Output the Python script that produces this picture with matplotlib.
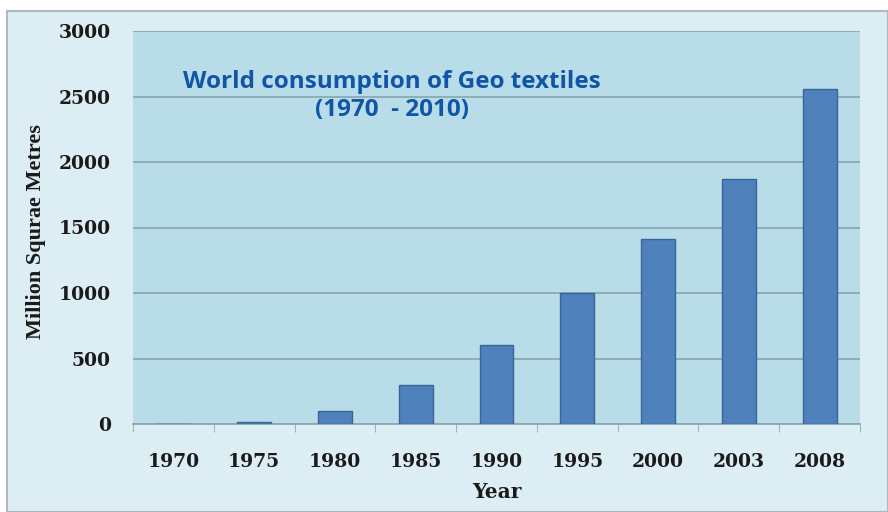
"""World consumption of geotextiles, 1970-2010, as a bar chart."""

import matplotlib
matplotlib.use("Agg")
import matplotlib.pyplot as plt
from matplotlib.patches import Rectangle

years = ["1970", "1975", "1980", "1985", "1990", "1995", "2000", "2003", "2008"]
consumption = [0, 15, 100, 300, 600, 1000, 1410, 1870, 2560]
y_ticks = [0, 500, 1000, 1500, 2000, 2500, 3000]

OUTER_BG = "#dcedf3"
PLOT_BG = "#b8dde9"
BAR_COLOR = "#4f81bd"
BAR_EDGE = "#3a6496"
GRID_COLOR = "#8aa8b0"
TITLE_COLOR = "#1155a8"
TEXT_COLOR = "#1a1a1a"


def main() -> None:
    fig = plt.figure(figsize=(8.88, 5.12), dpi=100)
    fig.patch.set_facecolor("white")

    # outer chart frame, drawn behind the axes
    frame = Rectangle((7 / 888, 0), 1 - 7 / 888, 1 - 11 / 512,
                      transform=fig.transFigure, facecolor=OUTER_BG,
                      edgecolor="#b0b8bc", linewidth=1.5, zorder=-10)
    fig.patches.append(frame)

    ax = fig.add_axes([133 / 888, 88 / 512, 727 / 888, 393 / 512])
    ax.set_facecolor(PLOT_BG)

    x = list(range(len(years)))
    ax.bar(x, consumption, width=0.42, color=BAR_COLOR, edgecolor=BAR_EDGE,
           linewidth=1.0, zorder=3)

    ax.set_xlim(-0.5, len(years) - 0.5)
    ax.set_ylim(0, 3000)
    ax.set_yticks(y_ticks)
    ax.set_xticks(x)
    ax.set_xticks([i + 0.5 for i in range(-1, len(years))], minor=True)
    ax.set_xticklabels(years)
    ax.yaxis.grid(True, color=GRID_COLOR, linewidth=1.3, zorder=1)

    for side in ["top", "right", "left"]:
        ax.spines[side].set_visible(False)
    ax.spines["bottom"].set_color(GRID_COLOR)
    ax.spines["bottom"].set_linewidth(1.3)

    ax.tick_params(axis="x", which="major", length=0, pad=21)
    ax.tick_params(axis="x", which="minor", length=6, color=GRID_COLOR)
    ax.tick_params(axis="y", length=0, pad=16)
    for lab in ax.get_xticklabels() + ax.get_yticklabels():
        lab.set_fontfamily("DejaVu Serif")
        lab.set_fontweight("bold")
        lab.set_fontsize(13.5)
        lab.set_color(TEXT_COLOR)

    ax.set_xlabel("Year", fontsize=14.5, labelpad=8, color=TEXT_COLOR,
                  family="DejaVu Serif", weight="bold")
    ax.set_ylabel("Million Squrae Metres", fontsize=16, color=TEXT_COLOR,
                  family="Liberation Serif", weight="bold")
    ax.yaxis.set_label_coords(-0.12, 0.49)

    ax.text(0.356, 0.835, "World consumption of Geo textiles\n(1970  - 2010)",
            transform=ax.transAxes, ha="center", va="center",
            fontsize=17.5, fontweight="bold", family="Open Sans",
            color=TITLE_COLOR, linespacing=1.25)

    fig.savefig("out.png", dpi=100)


if __name__ == "__main__":
    main()
